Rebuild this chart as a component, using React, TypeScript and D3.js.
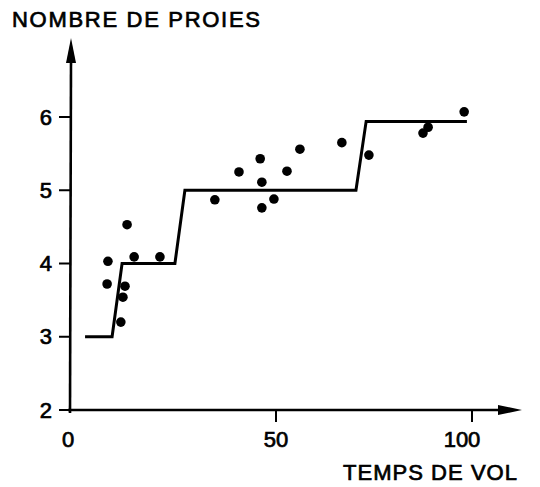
import React from 'react';
import { scaleLinear, line } from 'd3';

// observed points (flight time, number of prey)
const flightTime = [14.2, 9.6, 15.9, 22.1, 9.4, 13.7, 13.2, 12.7, 35.3, 41.1, 46.2, 46.6, 52.8, 56.1, 49.5, 46.6, 66.8, 73.7, 87.5, 88.8, 98.0];
const preyCount = [4.53, 4.03, 4.09, 4.09, 3.72, 3.69, 3.54, 3.2, 4.87, 5.25, 5.43, 5.11, 5.26, 5.56, 4.88, 4.76, 5.65, 5.48, 5.78, 5.86, 6.07];

// step model
const stepX = [4.1, 10.6, 13.0, 25.7, 28.1, 70.4, 73.0, 98.7];
const stepY = [3, 3, 4, 4, 5, 5, 5.94, 5.94];

const xTicks = [0, 50, 100];
const yTicks = [2, 3, 4, 5, 6];

const W = 540;
const H = 487;

export default function App() {
  const x = scaleLinear().domain([0, 50, 100]).range([68, 276, 472]);
  const y = scaleLinear().domain([2, 6]).range([410, 117]);

  const stepPath = line<number>()
    .x((d, i) => x(stepX[i]))
    .y((d, i) => y(stepY[i]))(stepX);

  const x0 = x(0);
  const y0 = y(2);
  const font = "'Liberation Sans', Arial, sans-serif";
  // the original lettering is a bit heavier than the regular face
  const txt = { fontFamily: font, fontSize: 22, fill: '#000', stroke: '#000', strokeWidth: 0.7 };

  return (
    <svg width={W} height={H} style={{ position: 'absolute', left: 0, top: 0, background: '#fff' }}>
      {/* y axis */}
      <line x1={x0 + 2} y1={y0 + 3} x2={x0 + 3} y2={60} stroke="#000" strokeWidth={2.6} />
      <path d={`M${x0 + 3},38 L${x0 - 2},63 L${x0 + 8},63 Z`} fill="#000" />
      {yTicks.map(t => (
        <g key={'y' + t}>
          <line x1={x0 - 9} x2={x0 + 2} y1={y(t)} y2={y(t)} stroke="#000" strokeWidth={2} />
          <text x={x0 - 16} y={y(t)} textAnchor="end" dominantBaseline="central" {...txt}>{t}</text>
        </g>
      ))}

      {/* x axis */}
      <line x1={x0} y1={y0} x2={505} y2={y0} stroke="#000" strokeWidth={2.6} />
      <path d={`M522,${y0} L498,${y0 - 5} L498,${y0 + 5} Z`} fill="#000" />
      {xTicks.map(t => (
        <g key={'x' + t}>
          {t > 0 && <line x1={x(t)} x2={x(t)} y1={y0} y2={y0 + 12} stroke="#000" strokeWidth={2} />}
          <text x={t === 100 ? x(t) - 10 : x(t)} y={447} textAnchor="middle" {...txt}>{t}</text>
        </g>
      ))}

      {/* step line */}
      <path d={stepPath ?? ''} fill="none" stroke="#000" strokeWidth={3} strokeLinejoin="miter" />

      {/* points */}
      {flightTime.map((t, i) => (
        <circle key={i} cx={x(t)} cy={y(preyCount[i])} r={4.8} fill="#000" />
      ))}

      {/* titles */}
      <text x={12} y={27} {...txt} textLength={248} lengthAdjust="spacing">NOMBRE DE PROIES</text>
      <text x={343} y={480} {...txt} textLength={174} lengthAdjust="spacing">TEMPS DE VOL</text>
    </svg>
  );
}
